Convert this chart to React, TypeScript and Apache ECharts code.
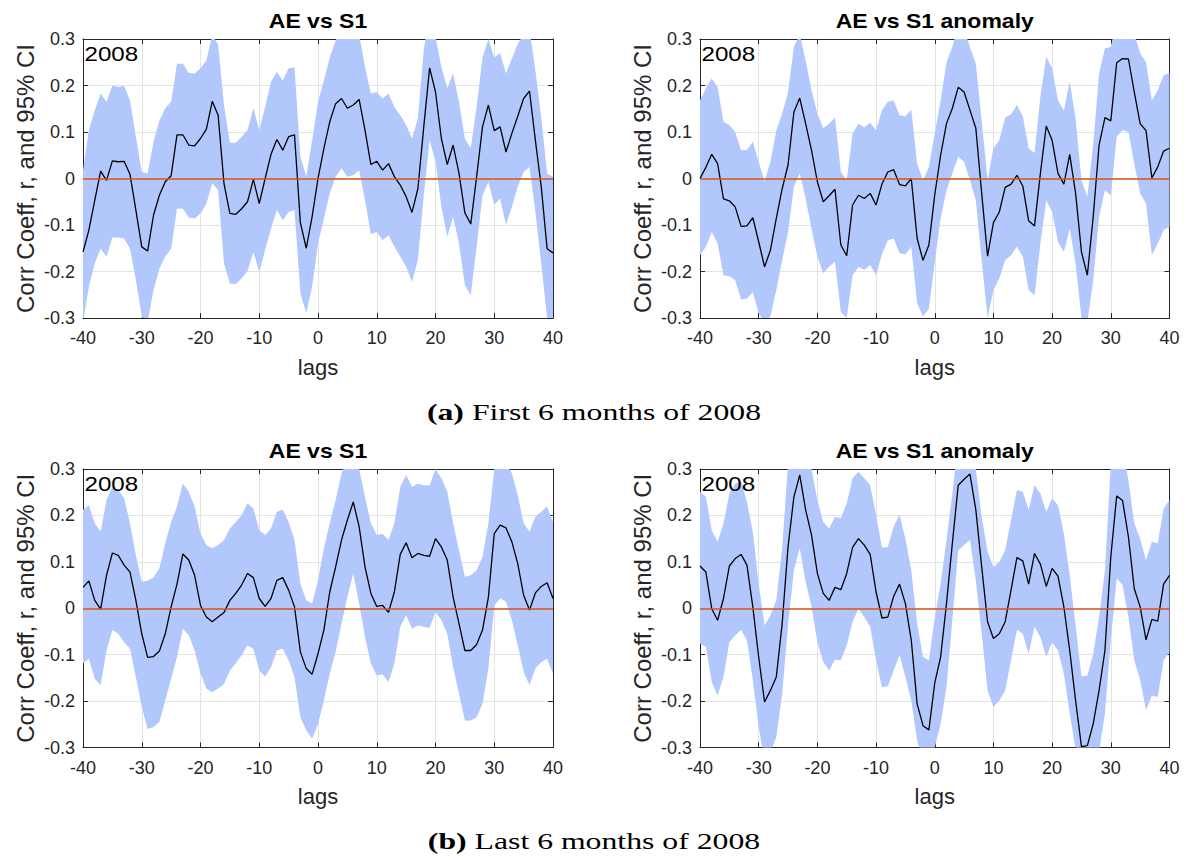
import React, { useEffect, useRef } from 'react';
import * as echarts from 'echarts';

const lags = [-40,-39,-38,-37,-36,-35,-34,-33,-32,-31,-30,-29,-28,-27,-26,-25,-24,-23,-22,-21,-20,-19,-18,-17,-16,-15,-14,-13,-12,-11,-10,-9,-8,-7,-6,-5,-4,-3,-2,-1,0,1,2,3,4,5,6,7,8,9,10,11,12,13,14,15,16,17,18,19,20,21,22,23,24,25,26,27,28,29,30,31,32,33,34,35,36,37,38,39,40];

// (a) First 6 months, AE vs S1
const rA1 = [-0.158,-0.111,-0.047,0.016,-0.004,0.038,0.036,0.037,0.009,-0.068,-0.147,-0.156,-0.079,-0.036,-0.007,0.006,0.094,0.094,0.072,0.070,0.086,0.106,0.166,0.136,-0.011,-0.075,-0.077,-0.065,-0.050,-0.002,-0.054,0.000,0.052,0.084,0.061,0.090,0.094,-0.095,-0.150,-0.082,0.000,0.065,0.122,0.161,0.172,0.151,0.158,0.170,0.104,0.030,0.037,0.018,0.032,0.004,-0.014,-0.039,-0.073,-0.022,0.111,0.238,0.186,0.086,0.030,0.072,0.011,-0.074,-0.098,0.004,0.111,0.158,0.103,0.111,0.057,0.097,0.134,0.172,0.188,0.082,-0.018,-0.151,-0.160];
const upA1 = [0.018,0.104,0.147,0.183,0.165,0.200,0.197,0.199,0.168,0.090,0.014,0.011,0.079,0.125,0.151,0.165,0.247,0.247,0.227,0.226,0.237,0.254,0.310,0.287,0.158,0.077,0.077,0.090,0.104,0.151,0.104,0.154,0.208,0.229,0.211,0.237,0.239,0.047,0.004,0.082,0.165,0.211,0.260,0.297,0.320,0.310,0.310,0.310,0.240,0.183,0.186,0.172,0.183,0.154,0.136,0.115,0.086,0.129,0.276,0.360,0.305,0.240,0.194,0.226,0.165,0.086,0.065,0.154,0.260,0.300,0.260,0.270,0.226,0.258,0.290,0.310,0.320,0.233,0.130,0.011,0.004];
const loA1 = [-0.310,-0.233,-0.183,-0.151,-0.168,-0.127,-0.127,-0.129,-0.151,-0.219,-0.297,-0.310,-0.240,-0.194,-0.168,-0.151,-0.065,-0.065,-0.084,-0.086,-0.075,-0.054,-0.011,-0.025,-0.183,-0.226,-0.227,-0.215,-0.199,-0.158,-0.201,-0.154,-0.108,-0.068,-0.090,-0.072,-0.068,-0.247,-0.290,-0.233,-0.140,-0.086,-0.032,0.004,0.022,0.004,0.007,0.018,-0.047,-0.120,-0.115,-0.133,-0.122,-0.147,-0.168,-0.190,-0.222,-0.176,-0.036,0.082,0.036,-0.061,-0.125,-0.082,-0.140,-0.229,-0.251,-0.147,-0.036,-0.007,-0.057,-0.043,-0.100,-0.061,-0.018,0.014,0.025,-0.072,-0.183,-0.300,-0.310];

// (a) First 6 months, AE vs S1 anomaly
const rA2 = [0.000,0.024,0.052,0.032,-0.044,-0.048,-0.061,-0.103,-0.102,-0.084,-0.136,-0.190,-0.154,-0.086,-0.022,0.029,0.143,0.173,0.118,0.061,-0.007,-0.050,-0.037,-0.023,-0.143,-0.166,-0.057,-0.036,-0.043,-0.032,-0.057,-0.012,0.014,0.019,-0.013,-0.016,0.000,-0.129,-0.176,-0.143,-0.035,0.050,0.118,0.151,0.196,0.186,0.147,0.108,-0.032,-0.167,-0.095,-0.072,-0.019,-0.012,0.007,-0.016,-0.091,-0.102,0.011,0.113,0.082,0.011,-0.012,0.052,-0.032,-0.158,-0.208,-0.082,0.072,0.131,0.124,0.249,0.258,0.257,0.186,0.118,0.103,0.001,0.025,0.059,0.065];
const upA2 = [0.168,0.194,0.215,0.197,0.122,0.115,0.100,0.061,0.062,0.079,0.036,-0.007,0.036,0.104,0.140,0.186,0.283,0.310,0.254,0.190,0.140,0.108,0.118,0.131,0.014,-0.004,0.097,0.118,0.110,0.120,0.104,0.147,0.165,0.168,0.136,0.134,0.148,0.032,-0.004,0.025,0.097,0.168,0.250,0.283,0.330,0.320,0.283,0.247,0.125,-0.004,0.065,0.082,0.131,0.138,0.158,0.134,0.065,0.055,0.176,0.262,0.237,0.168,0.147,0.208,0.129,-0.004,-0.039,0.072,0.226,0.280,0.283,0.340,0.350,0.350,0.310,0.270,0.250,0.168,0.190,0.222,0.227];
const loA2 = [-0.165,-0.147,-0.115,-0.140,-0.208,-0.210,-0.219,-0.260,-0.258,-0.244,-0.290,-0.310,-0.297,-0.240,-0.176,-0.115,-0.018,0.011,-0.043,-0.108,-0.168,-0.204,-0.190,-0.179,-0.287,-0.300,-0.208,-0.190,-0.196,-0.186,-0.208,-0.163,-0.133,-0.129,-0.161,-0.163,-0.147,-0.269,-0.297,-0.280,-0.180,-0.086,-0.025,0.011,0.047,0.036,-0.004,-0.047,-0.176,-0.300,-0.240,-0.215,-0.176,-0.165,-0.147,-0.168,-0.240,-0.251,-0.140,-0.047,-0.072,-0.136,-0.158,-0.108,-0.183,-0.300,-0.310,-0.219,-0.082,-0.025,-0.036,0.090,0.104,0.100,0.032,-0.032,-0.054,-0.165,-0.140,-0.111,-0.104];

// (b) Last 6 months, AE vs S1
const rB1 = [0.045,0.059,0.017,-0.002,0.071,0.119,0.114,0.093,0.078,0.017,-0.055,-0.106,-0.104,-0.092,-0.055,0.003,0.052,0.117,0.104,0.071,0.006,-0.019,-0.029,-0.019,-0.009,0.017,0.032,0.050,0.075,0.066,0.021,0.004,0.021,0.060,0.066,0.039,0.003,-0.094,-0.130,-0.142,-0.098,-0.047,0.035,0.089,0.147,0.190,0.229,0.176,0.089,0.032,0.004,0.006,-0.009,0.035,0.116,0.141,0.109,0.118,0.114,0.112,0.150,0.132,0.104,0.024,-0.033,-0.091,-0.091,-0.078,-0.047,0.024,0.161,0.179,0.173,0.143,0.096,0.028,-0.004,0.033,0.047,0.055,0.021];
const upB1 = [0.212,0.222,0.183,0.165,0.233,0.262,0.255,0.237,0.183,0.114,0.057,0.059,0.066,0.086,0.140,0.186,0.219,0.269,0.251,0.219,0.161,0.136,0.129,0.136,0.147,0.172,0.186,0.201,0.226,0.215,0.168,0.158,0.172,0.208,0.212,0.186,0.147,0.053,0.017,0.010,0.060,0.129,0.183,0.233,0.291,0.320,0.340,0.300,0.240,0.183,0.158,0.160,0.147,0.183,0.262,0.287,0.262,0.268,0.265,0.265,0.300,0.280,0.251,0.183,0.125,0.068,0.071,0.082,0.111,0.183,0.300,0.320,0.310,0.291,0.244,0.183,0.165,0.197,0.208,0.219,0.186];
const loB1 = [-0.119,-0.109,-0.152,-0.166,-0.091,-0.047,-0.055,-0.073,-0.087,-0.148,-0.213,-0.260,-0.256,-0.245,-0.199,-0.152,-0.105,-0.044,-0.058,-0.091,-0.141,-0.173,-0.181,-0.173,-0.163,-0.134,-0.119,-0.101,-0.080,-0.087,-0.134,-0.147,-0.127,-0.091,-0.087,-0.112,-0.148,-0.235,-0.263,-0.281,-0.250,-0.199,-0.141,-0.094,-0.033,0.024,0.075,0.010,-0.062,-0.119,-0.145,-0.142,-0.159,-0.119,-0.040,-0.015,-0.044,-0.037,-0.040,-0.042,-0.008,-0.026,-0.055,-0.127,-0.184,-0.242,-0.242,-0.235,-0.206,-0.130,0.006,0.021,0.014,-0.026,-0.080,-0.137,-0.166,-0.130,-0.116,-0.109,-0.141];

// (b) Last 6 months, AE vs S1 anomaly
const rB2 = [0.091,0.078,-0.001,-0.026,0.021,0.091,0.107,0.116,0.093,0.003,-0.105,-0.202,-0.177,-0.148,-0.033,0.132,0.240,0.287,0.212,0.158,0.075,0.032,0.017,0.045,0.040,0.075,0.131,0.150,0.136,0.116,0.035,-0.021,-0.019,0.026,0.052,0.010,-0.069,-0.206,-0.253,-0.262,-0.161,-0.105,0.010,0.140,0.265,0.278,0.289,0.212,0.089,-0.029,-0.065,-0.055,-0.029,0.039,0.109,0.102,0.052,0.118,0.095,0.047,0.086,0.069,0.003,-0.091,-0.199,-0.298,-0.296,-0.249,-0.177,-0.091,0.111,0.242,0.232,0.154,0.042,0.003,-0.068,-0.024,-0.028,0.052,0.071];
const upB2 = [0.251,0.240,0.168,0.143,0.183,0.247,0.269,0.273,0.229,0.165,0.053,-0.037,-0.015,0.017,0.129,0.310,0.350,0.380,0.330,0.300,0.233,0.186,0.172,0.197,0.194,0.226,0.280,0.294,0.280,0.265,0.201,0.131,0.132,0.176,0.201,0.150,0.082,-0.033,-0.105,-0.112,-0.020,0.053,0.147,0.247,0.360,0.370,0.370,0.300,0.197,0.122,0.089,0.100,0.125,0.190,0.255,0.251,0.212,0.265,0.247,0.208,0.237,0.222,0.161,0.071,-0.037,-0.147,-0.145,-0.098,-0.019,0.082,0.310,0.360,0.350,0.276,0.183,0.150,0.104,0.143,0.140,0.215,0.233];
const loB2 = [-0.076,-0.083,-0.159,-0.188,-0.148,-0.073,-0.058,-0.047,-0.069,-0.155,-0.256,-0.330,-0.310,-0.278,-0.184,-0.037,0.082,0.129,0.057,0.003,-0.073,-0.116,-0.134,-0.111,-0.112,-0.080,-0.029,-0.001,-0.019,-0.040,-0.112,-0.170,-0.168,-0.134,-0.101,-0.148,-0.199,-0.285,-0.330,-0.330,-0.300,-0.249,-0.170,-0.026,0.125,0.136,0.147,0.060,-0.055,-0.177,-0.213,-0.199,-0.177,-0.112,-0.047,-0.055,-0.098,-0.040,-0.062,-0.105,-0.073,-0.091,-0.141,-0.227,-0.303,-0.370,-0.370,-0.340,-0.310,-0.227,-0.069,0.064,0.050,-0.019,-0.112,-0.155,-0.220,-0.188,-0.191,-0.112,-0.094];

const titles = ['AE vs S1', 'AE vs S1 anomaly', 'AE vs S1', 'AE vs S1 anomaly'];
const yearLabel = '2008';
const yTicks = [-0.3, -0.2, -0.1, 0, 0.1, 0.2, 0.3];
const captions = [
  { tag: '(a)', text: ' First 6 months of 2008' },
  { tag: '(b)', text: ' Last 6 months of 2008' },
];

const BAND = '#b2c7fc';
const ZERO = '#d95319';
const AXIS = '#262626';
const GRIDC = '#e3e3e3';
const FONT = '"Liberation Sans", Arial, Helvetica, sans-serif';
const SERIF = '"Liberation Serif", "Times New Roman", serif';

const panels = [
  { r: rA1, up: upA1, lo: loA1, left: 83, top: 39, width: 470, height: 279 },
  { r: rA2, up: upA2, lo: loA2, left: 700, top: 39, width: 469.5, height: 279 },
  { r: rB1, up: upB1, lo: loB1, left: 83, top: 469, width: 470, height: 278.5 },
  { r: rB2, up: upB2, lo: loB2, left: 700, top: 469, width: 469.5, height: 278.5 },
];

function fmt(v: number) {
  if (Math.abs(v) < 1e-9) return '0';
  return (Math.round(v * 10) / 10).toFixed(1);
}

function buildOption() {
  const grid: any[] = [];
  const xAxis: any[] = [];
  const yAxis: any[] = [];
  const series: any[] = [];
  const graphic: any[] = [];
  const cats = lags.map(String);
  const yMin = yTicks[0];
  const yMax = yTicks[yTicks.length - 1];

  panels.forEach((p, i) => {
    grid.push({ left: p.left, top: p.top, width: p.width, height: p.height, containLabel: false });
    xAxis.push({
      type: 'category', gridIndex: i, data: cats, boundaryGap: false, position: 'bottom',
      axisLine: { show: true, onZero: false, lineStyle: { color: AXIS, width: 1 } },
      axisTick: { show: true, inside: true, length: 5, interval: 9, lineStyle: { color: AXIS } },
      axisLabel: { interval: 9, margin: 11, fontSize: 18, color: AXIS, fontFamily: FONT },
      splitLine: { show: true, interval: 9, lineStyle: { color: GRIDC, width: 1 } },
      name: 'lags', nameLocation: 'middle', nameGap: 38,
      nameTextStyle: { fontSize: 22, color: AXIS, fontFamily: FONT },
    });
    xAxis.push({
      type: 'category', gridIndex: i, data: cats, boundaryGap: false, position: 'top',
      axisLine: { show: true, onZero: false, lineStyle: { color: AXIS, width: 1 } },
      axisTick: { show: true, inside: true, length: 5, interval: 9, lineStyle: { color: AXIS } },
      axisLabel: { show: false }, splitLine: { show: false },
    });
    yAxis.push({
      type: 'value', gridIndex: i, min: yMin, max: yMax, interval: 0.1, position: 'left',
      axisLine: { show: true, onZero: false, lineStyle: { color: AXIS, width: 1 } },
      axisTick: { show: true, inside: true, length: 5, lineStyle: { color: AXIS } },
      axisLabel: { margin: 8, fontSize: 18, color: AXIS, fontFamily: FONT, formatter: (v: number) => fmt(v) },
      splitLine: { show: true, lineStyle: { color: GRIDC, width: 1 } },
      name: 'Corr Coeff, r, and 95% CI', nameLocation: 'middle', nameGap: 46,
      nameTextStyle: { fontSize: 24, color: AXIS, fontFamily: FONT },
    });
    yAxis.push({
      type: 'value', gridIndex: i, min: yMin, max: yMax, interval: 0.1, position: 'right',
      axisLine: { show: true, onZero: false, lineStyle: { color: AXIS, width: 1 } },
      axisTick: { show: true, inside: true, length: 5, lineStyle: { color: AXIS } },
      axisLabel: { show: false }, splitLine: { show: false },
    });
    const xi = 2 * i;
    const yi = 2 * i;
    series.push({
      type: 'line', xAxisIndex: xi, yAxisIndex: yi, data: p.lo, stack: 'ci' + i, stackStrategy: 'all',
      symbol: 'none', silent: true, lineStyle: { width: 0, opacity: 0 }, z: 2,
    });
    series.push({
      type: 'line', xAxisIndex: xi, yAxisIndex: yi, data: p.up.map((u, k) => u - p.lo[k]),
      stack: 'ci' + i, stackStrategy: 'all', symbol: 'none', silent: true,
      lineStyle: { width: 0, opacity: 0 }, areaStyle: { color: BAND, opacity: 1 }, z: 2,
      markLine: {
        silent: true, symbol: ['none', 'none'], label: { show: false },
        lineStyle: { color: ZERO, width: 1.6, type: 'solid' },
        data: [{ yAxis: 0 }],
      },
    });
    series.push({
      type: 'line', xAxisIndex: xi, yAxisIndex: yi, data: p.r, symbol: 'none', silent: true,
      lineStyle: { color: '#000000', width: 1.3 }, z: 4,
    });

    const cx = p.left + p.width / 2;
    graphic.push({
      type: 'text', x: cx, y: p.top - 17.5, scaleX: 1.15,
      style: {
        text: titles[i], font: 'bold 20px ' + FONT, fill: '#000',
        textAlign: 'center', textVerticalAlign: 'middle', align: 'center', verticalAlign: 'middle',
      },
    });
    graphic.push({
      type: 'text', x: p.left + 1.5, y: p.top + 15.5, scaleX: 1.15, z: 10,
      style: {
        text: yearLabel, font: '21px ' + FONT, fill: '#000',
        textAlign: 'left', textVerticalAlign: 'middle', align: 'left', verticalAlign: 'middle',
      },
    });
  });

  const capY = [412, 841];
  captions.forEach((c, i) => {
    graphic.push({
      type: 'text', x: 594, y: capY[i], scaleX: 1.38,
      style: {
        text: '{b|' + c.tag + '}{n|' + c.text + '}',
        fontFamily: SERIF, fontSize: 23, fill: '#000',
        textAlign: 'center', textVerticalAlign: 'middle', align: 'center', verticalAlign: 'middle',
        rich: {
          b: { fontFamily: SERIF, fontSize: 23, fontWeight: 'bold', fill: '#000' },
          n: { fontFamily: SERIF, fontSize: 23, fill: '#000' },
        },
      },
    });
  });

  return {
    animation: false,
    backgroundColor: '#ffffff',
    grid, xAxis, yAxis, series, graphic,
  };
}

export default function App() {
  const ref = useRef<HTMLDivElement>(null);
  useEffect(() => {
    if (!ref.current) return;
    const chart = echarts.init(ref.current, undefined, { renderer: 'svg' });
    chart.setOption(buildOption() as any);
    return () => chart.dispose();
  }, []);
  return (
    <div
      ref={ref}
      style={{ position: 'absolute', left: 0, top: 0, width: 1192, height: 860, background: '#fff' }}
    />
  );
}
